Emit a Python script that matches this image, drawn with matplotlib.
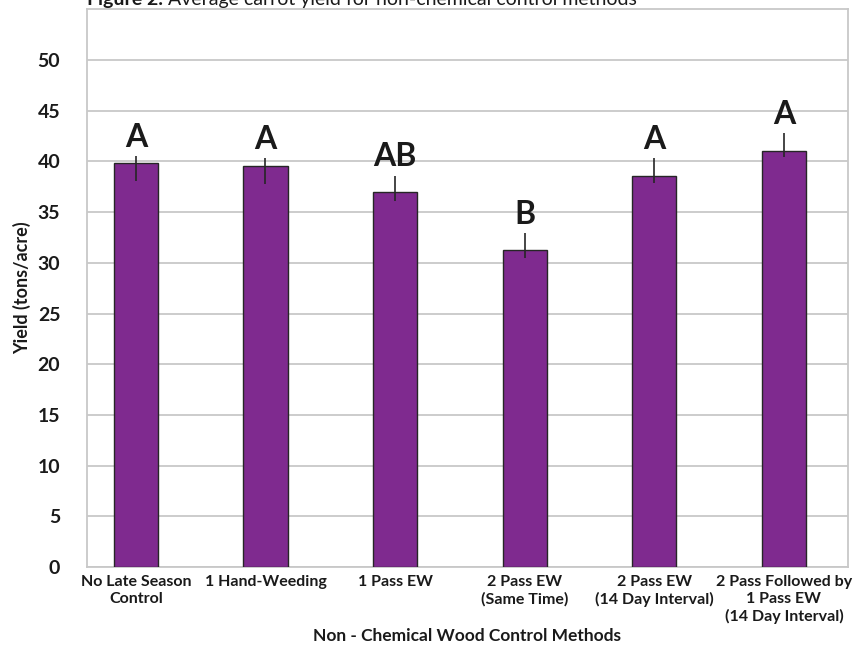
import matplotlib
matplotlib.use("Agg")
import matplotlib.pyplot as plt
import numpy as np

# data
methods = ["No Late Season\nControl", "1 Hand-Weeding", "1 Pass EW",
           "2 Pass EW\n(Same Time)", "2 Pass EW\n(14 Day Interval)",
           "2 Pass Followed by\n1 Pass EW\n(14 Day Interval)"]
yield_mean = [39.85, 39.55, 37.0, 31.3, 38.55, 41.0]
err_up = [0.7, 0.75, 1.6, 1.6, 1.75, 1.8]
err_down = [1.8, 1.75, 0.95, 0.8, 0.65, 0.55]
groups = ["A", "A", "AB", "B", "A", "A"]

plt.rcParams['font.family'] = ['Lato', 'DejaVu Sans']

fig = plt.figure(figsize=(8.57, 6.48), dpi=100)
ax = fig.add_axes([0.1012, 0.125, 0.9895 - 0.1012, 0.9856 - 0.125])

x = np.arange(len(methods))
ax.bar(x, yield_mean, width=0.34, color="#7f2a8f", edgecolor="#262626",
       linewidth=1.0, zorder=3)
ax.errorbar(x, yield_mean, yerr=[err_down, err_up], fmt="none",
            ecolor="#262626", elinewidth=1.2, capsize=0, zorder=4)

for xi, m, e, g in zip(x, yield_mean, err_up, groups):
    ax.annotate(g, (xi, m + e), xytext=(0, 3), textcoords="offset points",
                ha="center", va="bottom", fontsize=23, fontweight="bold",
                color="#1a1a1a")

ax.set_ylim(0, 55)
ax.set_xlim(-0.379, 5.494)
ax.set_yticks(range(0, 55, 5))
ax.set_yticklabels([str(v) for v in range(0, 55, 5)], fontsize=14,
                   fontweight="bold", color="#1a1a1a")
ax.set_xticks(x)
ax.set_xticklabels(methods, fontsize=11.5, fontweight="bold", color="#1a1a1a",
                   linespacing=1.25)
ax.tick_params(axis="y", length=0, pad=19)
ax.tick_params(axis="x", length=0, pad=6)

ax.yaxis.grid(True, color="#c8c8c8", linewidth=1.3, zorder=0)
ax.set_axisbelow(True)
for s in ax.spines.values():
    s.set_color("#c8c8c8")
    s.set_linewidth(1.3)

ax.set_ylabel("Yield (tons/acre)", fontsize=13, fontweight="bold",
              color="#1a1a1a")
ax.yaxis.set_label_coords((31 - 86.7) / 761.3, 0.5)
ax.set_xlabel("Non - Chemical Wood Control Methods", fontsize=12.5,
              fontweight="bold", color="#1a1a1a", va="center")
ax.xaxis.set_label_coords(0.5, -(636 - 567) / 557.7)

# title, clipped at the top of the image as in the original
ty = 1 - 5.5 / 648
t1 = fig.text(0.1015, ty, "Figure 2.", fontsize=14, fontweight="bold",
              va="baseline", color="#1a1a1a")
fig.canvas.draw()
bb = t1.get_window_extent()
fig.text((bb.x1 + 5) / fig.bbox.width, ty,
         "Average carrot yield for non-chemical control methods",
         fontsize=14, va="baseline", color="#1a1a1a")

fig.savefig("out.png", dpi=100)
